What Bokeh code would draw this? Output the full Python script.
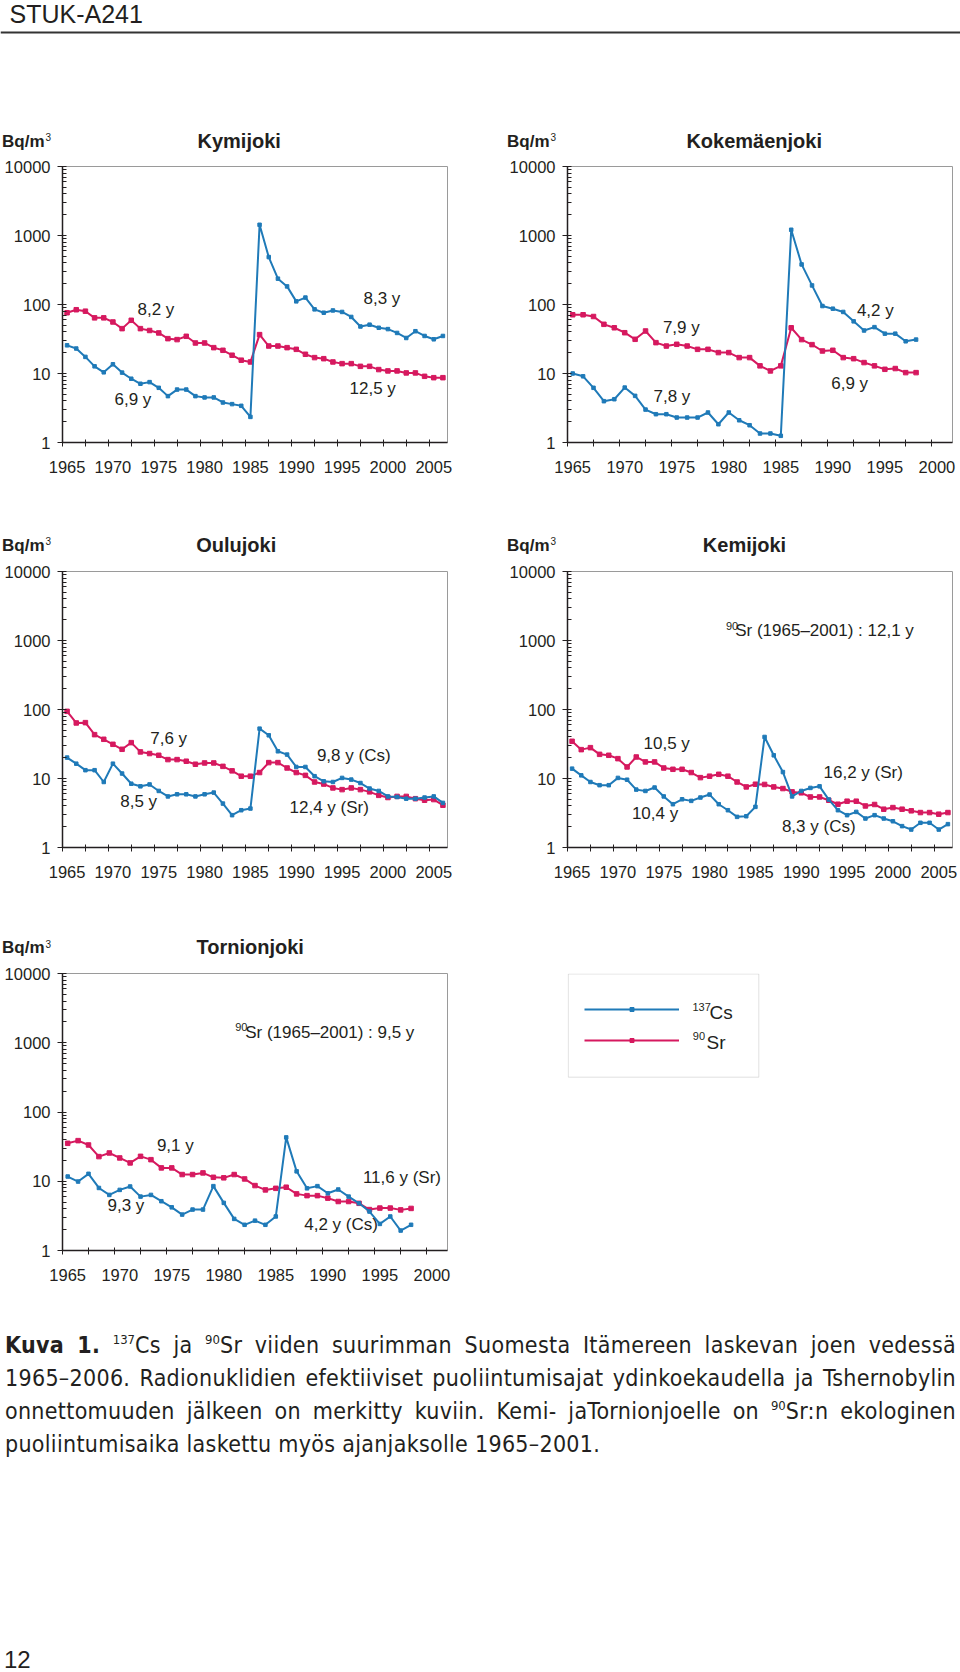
from bokeh.plotting import figure
from bokeh.models import (Range1d, FixedTicker, PrintfTickFormatter, Label, Legend,
                          LegendItem, Span, Div, ColumnDataSource, BoxAnnotation)
from bokeh.layouts import column, row
from bokeh.core.properties import value
from bokeh.embed import file_html
from bokeh.resources import INLINE

# ---------------- data (Bq/m3) ----------------
years_to_2006 = list(range(1965, 2007))
years_to_1998 = list(range(1965, 1999))
ticks_to_2005 = [1965, 1970, 1975, 1980, 1985, 1990, 1995, 2000, 2005]
ticks_to_2000 = [1965, 1970, 1975, 1980, 1985, 1990, 1995, 2000]
y_ticks = [1, 10, 100, 1000, 10000]

kymi_cs = [25.6, 23, 17.4, 12.7, 10.4, 13.6, 10.3, 8.4, 7.1, 7.5,
           6.2, 4.7, 5.85, 5.85, 4.7, 4.5, 4.5, 3.8, 3.6, 3.4,
           2.35, 1430, 487, 237, 183, 111, 126, 85, 76, 82,
           78, 66, 48, 51, 46, 44, 38.7, 32.7, 41, 35,
           31.3, 35]
kymi_sr = [76, 84, 80, 64, 64, 55.8, 44.7, 59, 44.7, 42,
           38.7, 32, 31, 34.6, 27.7, 27.7, 23.7, 21.7, 18.4, 15.6,
           14.7, 36.6, 25, 25, 23.7, 22.4, 19, 17, 16.4, 14.7,
           13.9, 13.9, 12.7, 12.7, 11.4, 10.9, 10.9, 10.2, 10.2, 9.1,
           8.7, 8.7]

koke_cs = [10, 9.1, 6.2, 3.97, 4.24, 6.25, 4.74, 3.0, 2.57, 2.57,
           2.3, 2.3, 2.3, 2.72, 1.84, 2.72, 2.1, 1.78, 1.35, 1.35,
           1.25, 1211, 381, 189, 95, 87, 78, 57, 42, 47,
           37.8, 37.8, 29.3, 31]
koke_sr = [71, 71, 67, 51.6, 46, 39, 31.3, 41.3, 28, 25,
           26.5, 25, 22.4, 22.4, 20.1, 20.1, 17, 17, 12.9, 10.9,
           12.9, 46, 31, 26.2, 21.2, 21.7, 17, 16.4, 14.4, 12.9,
           11.5, 11.8, 10.3, 10.3]

oulu_cs = [20.1, 16.4, 13.2, 13.2, 8.9, 16.4, 11.8, 8.4, 7.7, 8.2,
           6.6, 5.5, 5.9, 5.9, 5.5, 5.9, 6.25, 4.33, 2.94, 3.47,
           3.67, 52.8, 42.3, 24.8, 22.2, 14.7, 14.7, 10.8, 9.1, 8.9,
           10.2, 9.64, 8.6, 7.15, 6.6, 5.5, 5.4, 5.1, 5.1, 5.3,
           5.5, 4.43]
oulu_sr = [94, 63.8, 64.5, 43.2, 37, 31.3, 26.5, 33.1, 24.3, 23,
           21.7, 18.8, 18.8, 17.8, 16.1, 16.8, 16.8, 15, 12.9, 10.8,
           10.8, 12.2, 17, 17, 14.2, 12.2, 11.1, 8.9, 8.3, 7.3,
           6.9, 7.3, 6.9, 6.4, 5.7, 5.3, 5.5, 5.5, 5.1, 4.84,
           4.95, 4.1]

kemi_cs = [13.9, 11.1, 8.9, 8, 8, 10.2, 9.6, 6.9, 6.6, 7.4,
           5.5, 4.24, 5, 4.74, 5.3, 5.85, 4.24, 3.47, 2.78, 2.84,
           3.88, 40, 21.7, 12.4, 5.5, 6.6, 7.3, 7.7, 4.95, 3.47,
           2.94, 3.28, 2.63, 2.94, 2.63, 2.4, 2.04, 1.82, 2.28, 2.28,
           1.82, 2.18]
kemi_sr = [34.6, 26.2, 28, 22.4, 21.7, 19.4, 14.7, 20.5, 17.4, 17.4,
           14.2, 13.6, 13.6, 12.2, 10.3, 10.8, 11.5, 10.8, 8.9, 7.55,
           8.26, 8.2, 7.55, 7.15, 6.4, 6.2, 5.4, 5.4, 4.84, 4.24,
           4.69, 4.69, 4, 4.2, 3.59, 3.79, 3.59, 3.4, 3.21, 3.21,
           3.04, 3.21]

torn_cs = [11.7, 9.9, 12.8, 8, 6.35, 7.5, 8.4, 6, 6.35, 5.15,
           4.2, 3.3, 3.9, 3.9, 8.5, 4.87, 2.86, 2.35, 2.7, 2.35,
           3.1, 43, 13.9, 7.9, 8.5, 6.7, 7.6, 6, 4.8, 3.65,
           2.42, 3.1, 1.94, 2.35]
torn_sr = [35.3, 38.6, 33.4, 22.7, 25.6, 21.7, 18.4, 22.9, 20.5, 15.6,
           15.6, 12.5, 12.5, 13.2, 11.4, 11.2, 12.5, 10.8, 8.66, 7.5,
           7.9, 8.2, 6.57, 6.2, 6.2, 5.7, 5.1, 5.1, 4.8, 3.9,
           4.1, 4.1, 3.86, 4.05]

# ---------------- style ----------------
FONT = "Liberation Sans"
INK = "#231f20"
CS_COLOR = "#1f7ab8"
SR_COLOR = "#d6195f"
Y_MINOR = [m * d for d in (1, 10, 100, 1000) for m in range(2, 10)]


def add_text(p, text, x, y, size="17px", bold=False, align="left"):
    p.add_layout(Label(x=x, y=y, x_units="screen", y_units="screen", text=text,
                       text_font=FONT, text_font_size=size,
                       text_font_style="bold" if bold else "normal",
                       text_color=INK, text_align=align, text_baseline="middle"))


def blank(width, height):
    p = figure(width=width, height=height, x_range=Range1d(0, 1), y_range=Range1d(0, 1),
               output_backend="svg", toolbar_location=None,
               x_axis_location=None, y_axis_location=None, min_border=0)
    p.xgrid.visible = False
    p.ygrid.visible = False
    p.outline_line_color = None
    return p


def titles(p, y, left_title, left_cx, right_title, right_cx):
    # left chart frame starts at x=62, right chart frame at x=567
    for fx, t, cx in ((62, left_title, left_cx), (567, right_title, right_cx)):
        if t is None:
            continue
        add_text(p, "Bq/m", fx - 60.5, y - 0.5, size="17px", bold=True)
        add_text(p, "3", fx - 17, y + 3.5, size="10px")
        add_text(p, t, fx + cx, y, size="20px", bold=True, align="center")


def chart(years, cs, sr, x_end, label_ticks, left, right, top, frame_h, bottom, notes):
    p = figure(width=left + 385 + right, height=top + frame_h + bottom,
               x_range=Range1d(1964.5, x_end), y_range=Range1d(1, 10000),
               y_axis_type="log", output_backend="svg", toolbar_location=None,
               min_border_left=left, min_border_right=right,
               min_border_top=top, min_border_bottom=bottom)
    p.xgrid.visible = False
    p.ygrid.visible = False
    p.outline_line_color = "#9a9a9a"
    p.outline_line_width = 1

    minor_x = [t - 0.5 for t in label_ticks] + [t + 2 for t in label_ticks if t + 2 < x_end]
    xa = p.xaxis[0]
    xa.ticker = FixedTicker(ticks=label_ticks, minor_ticks=minor_x)
    xa.formatter = PrintfTickFormatter(format="%d")
    xa.major_tick_in = 0
    xa.major_tick_out = 0
    xa.minor_tick_in = 3
    xa.minor_tick_out = 4
    xa.minor_tick_line_color = INK
    xa.axis_line_color = INK
    xa.axis_line_width = 1.5
    xa.major_label_standoff = 14
    xa.major_label_text_font = FONT
    xa.major_label_text_font_size = "16.5px"
    xa.major_label_text_color = INK

    ya = p.yaxis[0]
    ya.ticker = FixedTicker(ticks=y_ticks, minor_ticks=Y_MINOR)
    ya.formatter = PrintfTickFormatter(format="%d")
    ya.major_tick_out = 5
    ya.major_tick_in = 4
    ya.minor_tick_in = 4
    ya.minor_tick_out = 0
    ya.major_tick_line_color = INK
    ya.minor_tick_line_color = INK
    ya.axis_line_color = INK
    ya.axis_line_width = 1.5
    ya.major_label_standoff = 7
    ya.major_label_text_font = FONT
    ya.major_label_text_font_size = "16.5px"
    ya.major_label_text_color = INK

    src = ColumnDataSource(dict(year=years, cs=cs, sr=sr))
    p.line("year", "sr", source=src, line_color=SR_COLOR, line_width=2)
    p.scatter("year", "sr", source=src, marker="square", size=4.5,
              fill_color=SR_COLOR, line_color=SR_COLOR)
    p.line("year", "cs", source=src, line_color=CS_COLOR, line_width=2)
    p.scatter("year", "cs", source=src, marker="square", size=3.5,
              fill_color=CS_COLOR, line_color=CS_COLOR)
    for n in notes:
        add_text(p, *n)
    return p


notes1 = [("8,2 y", 75, 133), ("6,9 y", 52, 43), ("8,3 y", 301, 144), ("12,5 y", 287, 54)]
notes2 = [("7,9 y", 95.4, 115), ("7,8 y", 86, 46), ("4,2 y", 289.4, 132), ("6,9 y", 263.7, 59.3)]
notes3 = [("7,6 y", 87.7, 109), ("8,5 y", 57.7, 45.6), ("9,8 y (Cs)", 254.4, 91.6),
          ("12,4 y (Sr)", 227, 40)]
notes4 = [("10,5 y", 76, 104), ("10,4 y", 64.4, 34), ("16,2 y (Sr)", 256, 74.6),
          ("8,3 y (Cs)", 214.4, 21.3), ("90", 158.4, 222, "11px"),
          ("Sr (1965\u20132001) : 12,1 y", 167.7, 217)]
notes5 = [("9,1 y", 94.4, 105), ("9,3 y", 45, 45), ("11,6 y (Sr)", 300.4, 73.3),
          ("4,2 y (Cs)", 241.7, 26), ("90", 172.7, 223.5, "11px"),
          ("Sr (1965\u20132001) : 9,5 y", 182.7, 218.3)]

f1 = chart(years_to_2006, kymi_cs, kymi_sr, 2006.5, ticks_to_2005, 62, 33, 10, 276, 63, notes1)
f2 = chart(years_to_1998, koke_cs, koke_sr, 2001.5, ticks_to_2000, 87, 8, 10, 276, 63, notes2)
f3 = chart(years_to_2006, oulu_cs, oulu_sr, 2006.5, ticks_to_2005, 62, 33, 10, 276, 60, notes3)
f4 = chart(years_to_2006, kemi_cs, kemi_sr, 2006.5, ticks_to_2005, 87, 8, 10, 276, 60, notes4)
f5 = chart(years_to_1998, torn_cs, torn_sr, 2001.5, ticks_to_2000, 62, 33, 10, 277, 47, notes5)

# ---------------- header with first row titles ----------------
hdr = figure(width=960, height=156, x_range=Range1d(0, 960), y_range=Range1d(0, 156),
             output_backend="svg", toolbar_location=None,
             x_axis_location=None, y_axis_location=None, min_border=0)
hdr.xgrid.visible = False
hdr.ygrid.visible = False
hdr.outline_line_color = None
add_text(hdr, "STUK-A241", 9, 143, size="25px")
hdr.add_layout(Span(location=124, dimension="width", line_color="#333333", line_width=2))
titles(hdr, 16, "Kymijoki", 176.7, "Kokemäenjoki", 186.7)

strip2 = blank(960, 56)
titles(strip2, 16.7, "Oulujoki", 173.7, "Kemijoki", 177)
strip3 = blank(960, 56)
titles(strip3, 16.3, "Tornionjoki", 187.7, None, 0)

# ---------------- legend panel (same borders as the Tornionjoki chart) ----------------
leg = figure(width=480, height=334, x_range=Range1d(0, 1), y_range=Range1d(0, 1),
             output_backend="svg", toolbar_location=None,
             x_axis_location=None, y_axis_location=None,
             min_border_left=87, min_border_right=8, min_border_top=10, min_border_bottom=47)
leg.xgrid.visible = False
leg.ygrid.visible = False
leg.outline_line_color = None
leg.add_layout(BoxAnnotation(left=0.8, right=191.3, top=276.5, bottom=173.3,
                             left_units="screen", right_units="screen",
                             top_units="screen", bottom_units="screen",
                             fill_alpha=0, line_color="#9a9a9a", line_width=1))
# key renderers: the Tornionjoki series, which fall outside this panel's view
r_cs_l = leg.line(years_to_1998, torn_cs, line_color=CS_COLOR, line_width=2)
r_cs_p = leg.scatter(years_to_1998, torn_cs, marker="square", size=4,
                     fill_color=CS_COLOR, line_color=CS_COLOR)
r_sr_l = leg.line(years_to_1998, torn_sr, line_color=SR_COLOR, line_width=2)
r_sr_p = leg.scatter(years_to_1998, torn_sr, marker="square", size=5,
                     fill_color=SR_COLOR, line_color=SR_COLOR)
legend = Legend(items=[LegendItem(label=value(""), renderers=[r_cs_l, r_cs_p]),
                       LegendItem(label=value(""), renderers=[r_sr_l, r_sr_p])],
                location=(17.3, 205), glyph_width=95, glyph_height=10, label_height=10,
                label_width=1, label_text_font_size="8px", spacing=21, padding=0, margin=0,
                border_line_color=None, background_fill_alpha=0, label_standoff=0)
leg.add_layout(legend)
add_text(leg, "137", 125, 244, size="11px")
add_text(leg, "Cs", 142, 238.3, size="19px")
add_text(leg, "90", 125.3, 215, size="11px")
add_text(leg, "Sr", 139, 208.3, size="19px")

# ---------------- caption ----------------
sup = "<sup style='font-size:13px; line-height:0; vertical-align:9px; letter-spacing:0;'>"
ls = "text-align:justify; text-align-last:justify;"
cap_html = (
    "<div style=\"font-family:'DejaVu Sans Condensed','Roboto',sans-serif;"
    " font-size:23px; letter-spacing:0.3px; line-height:33px; color:#231f20; width:951px;"
    " margin-left:5px; padding-top:32px;\">"
    f"<div style='{ls}'><b>Kuva 1.</b> {sup}137</sup>Cs ja {sup}90</sup>Sr viiden suurimman "
    "Suomesta Itämereen laskevan joen vedessä</div>"
    f"<div style='{ls}'>1965\u20132006. Radionuklidien efektiiviset puoliintumisajat "
    "ydinkoekaudella ja Tshernobylin</div>"
    f"<div style='{ls}'>onnettomuuden jälkeen on merkitty kuviin. Kemi- jaTornionjoelle on "
    f"{sup}90</sup>Sr:n ekologinen</div>"
    "<div>puoliintumisaika laskettu myös ajanjaksolle 1965\u20132001.</div>"
    "</div>"
)
caption = Div(text=cap_html, width=960, height=190, margin=0)
footer = Div(text="<div style=\"font-family:'Liberation Sans',sans-serif; font-size:24px;"
                  " line-height:24px; color:#231f20; padding-top:161px; margin-left:4px;\">12</div>",
             width=960, height=185, margin=0)

page = column(hdr, row(f1, f2), strip2, row(f3, f4), strip3, row(f5, leg), caption, footer)

open("out.html", "w").write(file_html(page, INLINE))
